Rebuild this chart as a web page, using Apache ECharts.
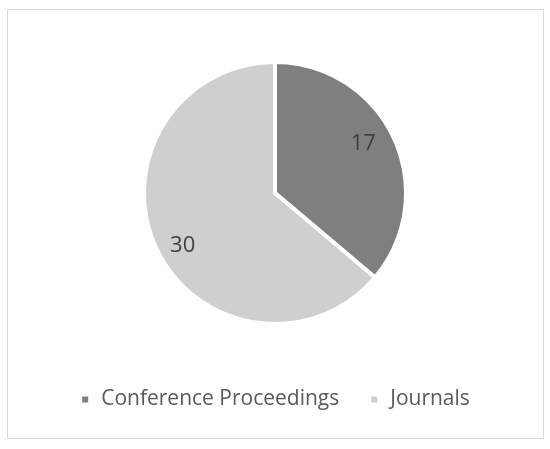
<!DOCTYPE html>
<html>
<head>
<meta charset="utf-8">
<script src="https://cdn.jsdelivr.net/npm/echarts@6/dist/echarts.min.js"></script>
<style>
  html, body { margin: 0; padding: 0; background: #fff; }
  #chart { width: 550px; height: 449px; }
</style>
</head>
<body>
<div id="chart"></div>
<script>
// 数据
var categories = ['Conference Proceedings', 'Journals'];
var values = [17, 30];
var colors = ['#7f7f7f', '#d0cece'];
// 数值标签的微调
var labelOffsets = [[-6, -5], [2, 9]];

var pieData = categories.map(function (name, i) {
  return { name: name, value: values[i], itemStyle: { color: colors[i] } };
});

var chart = echarts.init(document.getElementById('chart'));
chart.setOption({
  animation: false,
  graphic: [{
    type: 'rect',
    shape: { x: 7.5, y: 9.5, width: 536, height: 429 },
    style: { fill: 'none', stroke: '#d9d9d9', lineWidth: 1 },
    silent: true
  }],
  legend: {
    data: categories,
    top: 384,
    left: 'center',
    icon: 'rect',
    itemWidth: 8,
    itemHeight: 8,
    itemGap: 30,
    textStyle: { color: '#595959', fontSize: 21, fontFamily: 'Open Sans', padding: [0, 0, 0, 7] }
  },
  series: [
    {
      type: 'pie',
      center: [275, 193],
      radius: [0, 131],
      startAngle: 90,
      data: pieData,
      itemStyle: { borderColor: '#fff', borderWidth: 4 },
      label: { show: false },
      labelLine: { show: false },
      silent: true
    },
    {
      // 只用于放数值标签
      type: 'pie',
      center: [275, 193],
      radius: [70, 132],
      startAngle: 90,
      data: pieData.map(function (d, i) {
        return {
          name: d.name,
          value: d.value,
          itemStyle: { color: 'transparent' },
          label: { offset: labelOffsets[i] }
        };
      }),
      legendHoverLink: false,
      label: {
        show: true,
        position: 'inside',
        formatter: '{c}',
        color: '#404040',
        fontSize: 22,
        fontFamily: 'Open Sans'
      },
      labelLine: { show: false },
      silent: true
    }
  ]
});
</script>
</body>
</html>
